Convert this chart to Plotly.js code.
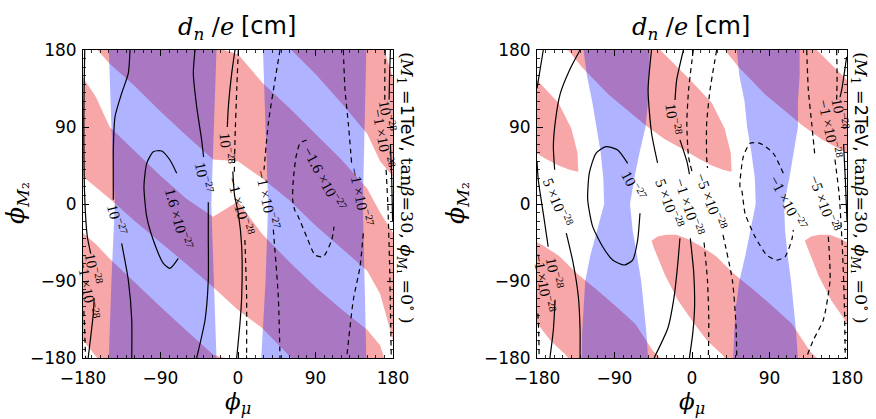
<!DOCTYPE html>
<html><head><meta charset="utf-8">
<script src="https://cdn.plot.ly/plotly-3.0.1.min.js"></script>
<style>html,body{margin:0;padding:0;background:#fff}</style>
</head><body><div id="chart" style="width:876px;height:419px"></div>
<script>
// ================= DATA (angles in degrees) =================
const TICKS = [-180, -90, 0, 90, 180];

// ---- Left panel (M1 = 1 TeV): white diagonal stripes on red ----
const L_STRIPE_X = [-180,-165,-149,-120,-90,-60,-29,0,28,60,90,120,150,165,180];
const L_SA_LO = [-34,-47,-64,-92,-120,-148,-176,-185,-218,-248,-278,-308,-342,-370,-394];
const L_SA_HI = [32,19,6,-20,-45,-70,-97,-124,-145,-178,-208,-242,-278,-310,-328];
const L_SB_LO = [148,125,90,62,33,6,-15,3,-35,-68,-97,-123,-147,-165,-212];
const L_SB_HI = [201,182,164,138,108,80,52,50,30,4,-25,-52,-78,-105,-159];

// ---- Left panel: blue vertical bands ----
const L_BAND_Y = [180, 90, 0, -90, -180];
const L_B1_LEFT = [-150,-147,-143,-147,-150];
const L_B1_RIGHT = [-25,-28,-31,-28,-25];
const L_B2_LEFT = [29,32,35,32,27];
const L_B2_RIGHT = [149,147,145,147,149];

// ---- Right panel (M1 = 2 TeV): blue hour-glass bands ----
const R_BAND_Y = [180,150,120,90,60,30,0,-30,-60,-90,-120,-150,-180];
const R_B1_LEFT = [-126,-122,-116,-111,-106,-103,-102,-110,-118,-124,-126,-127.5,-128];
const R_B1_RIGHT = [-49,-50,-51,-54,-61,-67,-72,-69,-64,-59,-56,-53,-51];
const R_B2_LEFT = [52,55,61,64,69,73,74,68,62,55,51,49,48];
const R_B2_RIGHT = [125,125,123,123,118,113,107,108,111,115,118,121,123];

// ---- Right panel: red elongated lenses (unwrapped outline) and their x offsets ----
const LENS_UP_X = [-47,-40,-30,-18,-5,10,28,48,70,92,116,137,158,180,205,220,227,228];
const LENS_UP_Y = [-43,-38,-36,-36,-41,-49,-61,-81,-99,-118,-140,-172,-193,-215,-242,-272,-300,-322];
const LENS_LO_X = [-47,-44,-31,-16,2,18,35,54,85,128,150,170,190,205,218,226,228];
const LENS_LO_Y = [-43,-52,-84,-113,-139,-160,-176,-200,-232,-268,-284,-295,-307,-315,-320,-322,-322];
const LENS_DX = [0, 178];

// ---- Left panel contour lines (null = gap under a label) ----
const L_S28A_X = [-178,-179,-178,-175,-171,null,-167,-168,-174];
const L_S28A_Y = [180,100,8.5,-38,-58,null,-110,-128,-180];
const L_D28A_X = [-179,-178,-177];
const L_D28A_Y = [-125,-150,-180];
const L_S27A_X = [-125.4,-127.4,-135.1,-142.8,-144.8,-144.8,-144.8,null,-135.1,-127.4,-123.4,-123.4];
const L_S27A_Y = [180,152.7,129.4,102.1,63.1,12.5,5,null,-46,-88.8,-135.6,-180];
const L_S27B_X = [-49.9,-51.9,-48,-42.2,-40,null,-34.5,-34.5,-34.5,-38.3,-48];
const L_S27B_Y = [180,152.7,113.7,74.8,55,null,2,-40,-88.8,-135.6,-180];
const L_S16_X = [-71.2,-79,-88.6,-98.4,-106,-109.2,-106,-98.4,-86.7,-79,-69.3];
const L_S16_Y = [35.9,51.4,62,61.2,47.5,20.2,-14.8,-42.1,-69.3,-75.2,-63.5];
const L_S28B_X = [-3.5,-7.3,-11.2,-12.4,null,-6,-4,0.4,4.3,4.3,2.3,-1.5];
const L_S28B_Y = [180,152.7,113.7,90,null,38,10,-10.9,-49.9,-108.3,-139.4,-180];
const L_D28B_X = [0.4,-1.5,-3.5,-4.3,null,8,10,10];
const L_D28B_Y = [180,133,75,36,null,-42,-108,-180];
const L_D27A_X = [48.8,43,35.2,30.2,null,41,46.8,48.8];
const L_D27A_Y = [180,145,94.3,40,null,-30,-108.3,-180];
const L_D16_X = [79.7,72,67.4,64.2,63.5,66.2,70,79.7,89.4,99,108.8,111.5];
const L_D16_Y = [74.8,70.9,55.3,28,4.7,-8,-14.8,-38.2,-59.6,-61.6,-42.1,-26.5];
const L_D27B_X = [122.3,124.3,128.1,132,null,145.5,141.7,133.9,126.2];
const L_D27B_Y = [180,133.2,94.3,47.5,null,-34.3,-73.3,-112.2,-180];
const L_S28C_X = [177,176,175.5,null,177,178.5,179.5];
const L_S28C_Y = [180,150,122,null,70,30,-20];
const L_D28C_X = [171,170.5,170.5,null,172,174,176,178];
const L_D28C_Y = [180,150,118,null,40,0,-70,-180];

// ---- Right panel contour lines ----
const R_S28A_X = [-172.7,-176.5,-180,null,-180,-178.5,-172.7,-167,null,-159,-161,-165];
const R_S28A_Y = [180,156.6,135,null,50,28,-11,-50,null,-112,-147,-180];
const R_D28A_X = [-179,-178,-177.5];
const R_D28A_Y = [-128,-150,-180];
const R_S5A_X = [-130,-142,-153,-159,-161,-159.5,null,-146,-138,-132,-130,-130];
const R_S5A_Y = [180,157,129,94,67,40,null,-34,-69,-108,-147,-180];
const R_S27_X = [-74.7,-86.3,-99.9,-111.5,-119.3,-121.1,-115.3,-103.7,-92.1,-78.6,-68.9,-63.1,-60.4];
const R_S27_Y = [47.5,63.1,67,59.3,35.9,4.7,-26.5,-49.9,-65.5,-71.3,-65.5,-42.1,-10.9];
const R_S5B_X = [-47,-51,-47,-40,null,-14,-17,-21,-28,-44];
const R_S5B_Y = [180,133,83,48,null,-40,-75,-110,-145,-180];
const R_S28B_X = [-10,-17.8,-19.7,null,-14,-6,-3,null,-2,2,3,1,-3];
const R_S28B_Y = [180,145,121.6,null,75,50,35,null,-40,-80,-120,-150,-180];
const R_D28B_X = [1.5,-4,-6,-4,0,null,14,18,19.5,19];
const R_D28B_Y = [180,133,94,55,38,null,-45,-90,-135,-180];
const R_D5B_X = [28.6,20.9,17,17,18,null,36,47,51,52];
const R_D5B_Y = [180,133,94,55,42,null,-36,-90,-140,-180];
const R_D27_X = [106,94.4,79,67.4,59.6,55.7,57.7,61.6,73.2,86.7,98.4,108,115.8,117.7];
const R_D27_Y = [35.9,59.3,70.9,70.9,55.3,20.2,16.4,-10.9,-38.2,-59.6,-65.5,-61.6,-42.1,-30.4];
const R_D5C_X = [133.2,135.1,139,142.8,null,158.3,160.3,152.5,140.9,133.2];
const R_D5C_Y = [180,133.2,94.3,55.3,null,-38.2,-88.8,-135.6,-159,-178.5];
const R_S28C_X = [179.6,173.8,171.9,null,176,178,180];
const R_S28C_Y = [172,133,125,null,70,30,-20];
const R_D28C_X = [168,168.5,168,null,166,171,175,177,178];
const R_D28C_Y = [180,150,122,null,52,10,-60,-120,-180];

// ---- Contour labels ----
const L_LAB_TEXT = ['10<sup>−28</sup>','−1 ×10<sup>−28</sup>','10<sup>−27</sup>','10<sup>−27</sup>','1.6 ×10<sup>−27</sup>','10<sup>−28</sup>','−1 ×10<sup>−28</sup>','−1 ×10<sup>−27</sup>','−1.6 ×10<sup>−27</sup>','−1 ×10<sup>−27</sup>','10<sup>−28</sup>','−1 ×10<sup>−28</sup>'];
const L_LAB_X = [-168,-173,-141,-40,-68,-13,4,35,100,143,174,169];
const L_LAB_Y = [-75,-100,-18,31,-17,65,-3,5,30,8,103,77];
const L_LAB_A = [80,80,75,78,75,85,75,78,62,78,80,80];
const R_LAB_TEXT = ['10<sup>−28</sup>','−1 ×10<sup>−28</sup>','5 ×10<sup>−28</sup>','10<sup>−27</sup>','10<sup>−28</sup>','5 ×10<sup>−28</sup>','−1 ×10<sup>−28</sup>','−5 ×10<sup>−28</sup>','−1 ×10<sup>−27</sup>','−5 ×10<sup>−28</sup>','10<sup>−28</sup>','−1 ×10<sup>−28</sup>'];
const R_LAB_X = [-160,-171,-156,-68,-22,-26,-3,22,112,154,172,161];
const R_LAB_Y = [-80,-92,2,22,100,1,-4,3,1,1,106,88];
const R_LAB_A = [80,80,68,62,82,70,72,70,62,70,80,78];

// ================= DRAWING =================
const W = 876, H = 419;
const px = x => x / W, py = y => 1 - y / H;
const RED = '#f7a7a7';
const BLUE = 'rgba(10,20,255,0.32)';
const SHIFTS = [-360, 0, 360];
const SERIF = 'DejaVu Serif', SANS = 'DejaVu Sans', LSERIF = 'Liberation Serif';
const traces = [];

function poly(xs, ys, color, xa, ya) {
  traces.push({type:'scatter', mode:'lines', x:xs, y:ys, fill:'toself', fillcolor:color,
    line:{width:0, color:color}, hoverinfo:'skip', showlegend:false, xaxis:xa, yaxis:ya});
}
function stripe(xs, lo, hi, color, xa, ya) {
  for (const dx of SHIFTS) for (const dy of SHIFTS) {
    const X = xs.concat(xs.slice().reverse()).map(v => v + dx);
    const Y = lo.map(v => v + dy).concat(hi.slice().reverse().map(v => v + dy));
    poly(X, Y, color, xa, ya);
  }
}
function band(ys, left, right, xa, ya) {
  poly(left.concat(right.slice().reverse()), ys.concat(ys.slice().reverse()), BLUE, xa, ya);
}
function curve(xs, ys, dashed, xa, ya) {
  traces.push({type:'scatter', mode:'lines', x:xs, y:ys, connectgaps:false,
    line:{color:'black', width:1.2, dash: dashed ? '5px,4px' : 'solid', shape:'spline', smoothing:0.6},
    hoverinfo:'skip', showlegend:false, xaxis:xa, yaxis:ya});
}

// Left panel regions
stripe(L_STRIPE_X, L_SA_LO, L_SA_HI, '#ffffff', 'x', 'y');
stripe(L_STRIPE_X, L_SB_LO, L_SB_HI, '#ffffff', 'x', 'y');
band(L_BAND_Y, L_B1_LEFT, L_B1_RIGHT, 'x', 'y');
band(L_BAND_Y, L_B2_LEFT, L_B2_RIGHT, 'x', 'y');

// Right panel regions
const lensX = LENS_UP_X.concat(LENS_LO_X.slice().reverse());
const lensY = LENS_UP_Y.concat(LENS_LO_Y.slice().reverse());
for (const base of LENS_DX) for (const dx of SHIFTS) for (const dy of SHIFTS)
  poly(lensX.map(v => v + base + dx), lensY.map(v => v + dy), RED, 'x2', 'y2');
band(R_BAND_Y, R_B1_LEFT, R_B1_RIGHT, 'x2', 'y2');
band(R_BAND_Y, R_B2_LEFT, R_B2_RIGHT, 'x2', 'y2');

// Contours
[[L_S28A_X,L_S28A_Y,false],[L_D28A_X,L_D28A_Y,true],[L_S27A_X,L_S27A_Y,false],[L_S27B_X,L_S27B_Y,false],
 [L_S16_X,L_S16_Y,false],[L_S28B_X,L_S28B_Y,false],[L_D28B_X,L_D28B_Y,true],[L_D27A_X,L_D27A_Y,true],
 [L_D16_X,L_D16_Y,true],[L_D27B_X,L_D27B_Y,true],[L_S28C_X,L_S28C_Y,false],[L_D28C_X,L_D28C_Y,true]]
 .forEach(c => curve(c[0], c[1], c[2], 'x', 'y'));
[[R_S28A_X,R_S28A_Y,false],[R_D28A_X,R_D28A_Y,true],[R_S5A_X,R_S5A_Y,false],[R_S27_X,R_S27_Y,false],
 [R_S5B_X,R_S5B_Y,false],[R_S28B_X,R_S28B_Y,false],[R_D28B_X,R_D28B_Y,true],[R_D5B_X,R_D5B_Y,true],
 [R_D27_X,R_D27_Y,true],[R_D5C_X,R_D5C_Y,true],[R_S28C_X,R_S28C_Y,false],[R_D28C_X,R_D28C_Y,true]]
 .forEach(c => curve(c[0], c[1], c[2], 'x2', 'y2'));

// Annotations
const ann = [];
function labels(T, X, Y, A, xa, ya) {
  T.forEach((t, i) => ann.push({text:t, x:X[i], y:Y[i], xref:xa, yref:ya, textangle:A[i], showarrow:false,
    xanchor:'center', yanchor:'middle', font:{family:LSERIF, size:15, color:'black'}}));
}
labels(L_LAB_TEXT, L_LAB_X, L_LAB_Y, L_LAB_A, 'x', 'y');
labels(R_LAB_TEXT, R_LAB_X, R_LAB_Y, R_LAB_A, 'x2', 'y2');

function paperText(text, x, y, size, angle, family, anchor) {
  ann.push({text:text, x:px(x), y:py(y), xref:'paper', yref:'paper', showarrow:false, textangle:angle||0,
    xanchor:anchor||'center', yanchor:'middle', font:{family:family||SERIF, size:size, color:'black'}});
}
// panel titles: math part (serif italic) + unit part (sans)
const TITLE_MATH = '<i>d</i><sub><i>n</i></sub> /<i>e</i>';
const TITLE_UNIT = '[cm]';
paperText(TITLE_MATH, 236, 28, 24, 0, SERIF, 'right');
paperText(TITLE_UNIT, 239, 26, 24, 0, SANS, 'left');
paperText(TITLE_MATH, 690, 28, 24, 0, SERIF, 'right');
paperText(TITLE_UNIT, 693, 26, 24, 0, SANS, 'left');
const XT = '<i>ϕ</i><sub><i>μ</i></sub>';
paperText(XT, 238, 403, 23);
paperText(XT, 692, 403, 23);
const YT = '<i>ϕ</i><sub><i>M</i>₂</sub>';
paperText(YT, 17, 203, 25, -90);
paperText(YT, 457, 203, 25, -90);
paperText('(<i>M</i><sub>1</sub> =<span style="font-family:DejaVu Sans">1TeV,</span> tan<i>β</i>=30, <i>ϕ</i><sub><i>M</i>₁</sub> =0<sup>∘</sup> )', 407, 188, 17.5, 90);
paperText('(<i>M</i><sub>1</sub> =<span style="font-family:DejaVu Sans">2TeV,</span> tan<i>β</i>=30, <i>ϕ</i><sub><i>M</i>₁</sub> =0<sup>∘</sup> )', 861, 188, 17.5, 90);

function axis(dom, anchor, standoff) {
  return {domain:dom, anchor:anchor, range:[-180,180], tickvals:TICKS, ticks:'inside', ticklen:6, tickwidth:1,
    tickcolor:'black', showline:true, linecolor:'black', linewidth:1, mirror:'ticks', showgrid:false,
    zeroline:false, fixedrange:true, ticklabelstandoff:standoff, tickfont:{family:SANS, size:17, color:'black'},
    minor:{ticks:'inside', dtick:10, tick0:0, ticklen:3, tickcolor:'black', tickwidth:0.8, showgrid:false}};
}

const layout = {
  width:W, height:H, margin:{l:0, r:0, t:0, b:0}, paper_bgcolor:'white', plot_bgcolor:'white',
  showlegend:false,
  xaxis: axis([px(83), px(393)], 'y', 5),
  yaxis: axis([py(358), py(50)], 'x', 2),
  xaxis2: axis([px(537), px(847)], 'y2', 5),
  yaxis2: axis([py(358), py(50)], 'x2', 2),
  shapes:[{type:'rect', xref:'x domain', yref:'y domain', x0:0, x1:1, y0:0, y1:1, fillcolor:RED,
    line:{width:0}, layer:'below'}],
  annotations: ann
};
Plotly.newPlot('chart', traces, layout, {staticPlot:true, displayModeBar:false});
</script></body></html>
